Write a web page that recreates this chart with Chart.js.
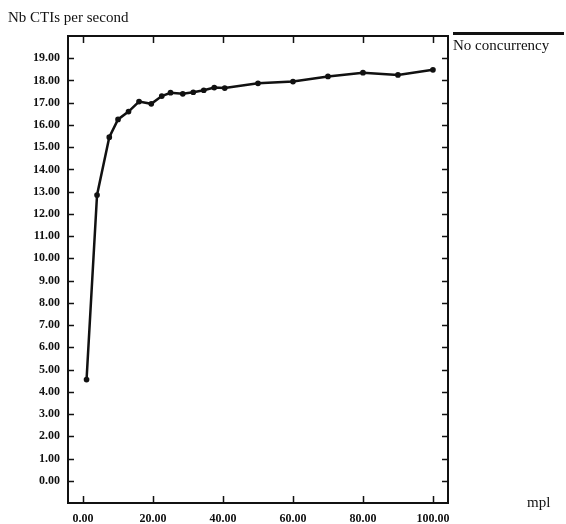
<!DOCTYPE html>
<html>
<head>
<meta charset="utf-8">
<script src="https://cdn.jsdelivr.net/npm/chart.js@4"></script>
<style>
  html, body { margin: 0; padding: 0; background: #fff; }
  #wrap { position: relative; width: 566px; height: 524px; }
  .lbl { position: absolute; font-family: "Liberation Serif", serif; font-size: 15px; color: #111; white-space: nowrap; }
  #legline { position: absolute; left: 453px; top: 32px; width: 111px; height: 3px; background: #111; }
</style>
</head>
<body>
<div id="wrap">
  <canvas id="chart" width="566" height="524"></canvas>
  <div class="lbl" style="left:8px; top:9px;">Nb CTIs per second</div>
  <div id="legline"></div>
  <div class="lbl" style="left:453px; top:37px;">No concurrency</div>
  <div class="lbl" style="left:527px; top:494px;">mpl</div>
</div>
<script>
// mpl values and throughput
const mpl = [1, 4, 7.5, 10, 13, 16, 19.5, 22.5, 25, 28.5, 31.5, 34.5, 37.5, 40.5, 50, 60, 70, 80, 90, 100];
const ctiPerSec = [4.55, 12.85, 15.45, 16.25, 16.6, 17.05, 16.95, 17.3, 17.45, 17.4, 17.47, 17.56, 17.68, 17.66, 17.87, 17.95, 18.18, 18.35, 18.25, 18.48];
const xTicks = [0, 20, 40, 60, 80, 100];
const yTicks = [0, 1, 2, 3, 4, 5, 6, 7, 8, 9, 10, 11, 12, 13, 14, 15, 16, 17, 18, 19];

// frame with inward tick marks on all four sides
const frame = {
    id: "frame",
    afterDraw(chart) {
        const ctx = chart.ctx;
        const a = chart.chartArea;
        const xs = chart.scales.x, ys = chart.scales.y;
        ctx.save();
        ctx.strokeStyle = "#111";
        ctx.lineWidth = 2;
        ctx.strokeRect(a.left, a.top, a.right - a.left, a.bottom - a.top);
        ctx.lineWidth = 1.5;
        ctx.beginPath();
        xTicks.forEach(v => {
            const px = Math.round(xs.getPixelForValue(v)) + 0.5;
            ctx.moveTo(px, a.bottom); ctx.lineTo(px, a.bottom - 7);
            ctx.moveTo(px, a.top); ctx.lineTo(px, a.top + 7);
        });
        yTicks.forEach(v => {
            const py = Math.round(ys.getPixelForValue(v)) + 0.5;
            ctx.moveTo(a.left, py); ctx.lineTo(a.left + 6, py);
            ctx.moveTo(a.right, py); ctx.lineTo(a.right - 6, py);
        });
        ctx.stroke();
        ctx.restore();
    }
};

const tickFont = { family: "Liberation Serif", size: 12, weight: "bold" };

new Chart(document.getElementById("chart").getContext("2d"), {
    type: "line",
    data: {
        datasets: [{
            label: "No concurrency",
            data: mpl.map((x, i) => ({ x: x, y: ctiPerSec[i] })),
            borderColor: "#111",
            backgroundColor: "#111",
            borderWidth: 2.5,
            pointRadius: 1.6,
            tension: 0
        }]
    },
    options: {
        responsive: false,
        animation: false,
        layout: { padding: { left: 0, top: 36, right: 118, bottom: 0 } },
        plugins: { legend: { display: false }, tooltip: { enabled: false } },
        scales: {
            x: {
                type: "linear",
                min: -4.3,
                max: 104.3,
                afterBuildTicks: s => { s.ticks = xTicks.map(v => ({ value: v })); },
                afterFit: s => { s.height = 21; },
                grid: { display: false },
                border: { display: false },
                ticks: {
                    font: tickFont, color: "#111", padding: 1,
                    maxRotation: 0, autoSkip: false,
                    callback: v => v.toFixed(2)
                }
            },
            y: {
                min: -1,
                max: 20,
                afterBuildTicks: s => { s.ticks = yTicks.map(v => ({ value: v })); },
                afterFit: s => { s.width = 68; },
                grid: { display: false },
                border: { display: false },
                ticks: {
                    font: tickFont, color: "#111", padding: 0,
                    autoSkip: false,
                    callback: v => v.toFixed(2)
                }
            }
        }
    },
    plugins: [frame]
});
</script>
</body>
</html>
